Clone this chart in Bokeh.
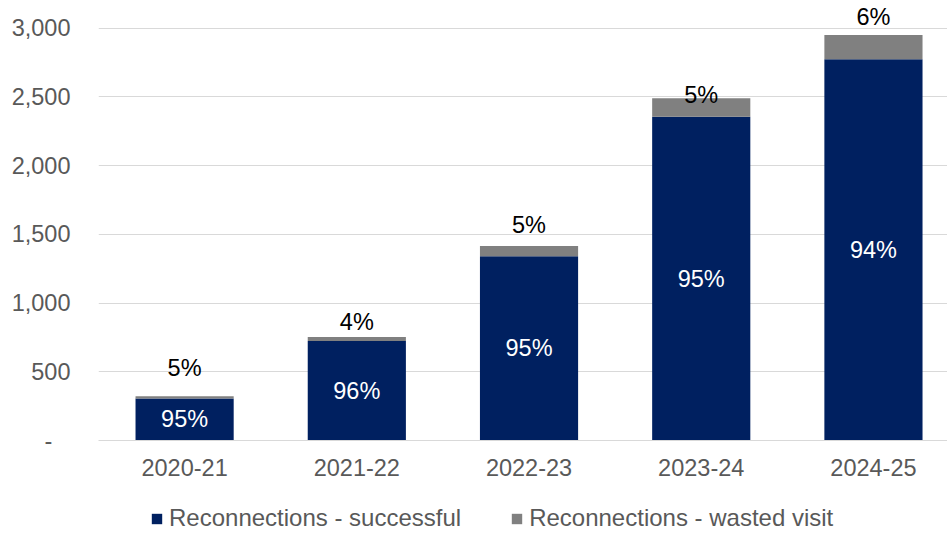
from bokeh.plotting import figure
from bokeh.models import ColumnDataSource, Range1d, FixedTicker, Legend, LegendItem
from bokeh.layouts import column
from bokeh.core.properties import value
from bokeh.embed import file_html
from bokeh.resources import INLINE

years = ["2020-21", "2021-22", "2022-23", "2023-24", "2024-25"]
successful = [306, 723, 1340, 2355, 2773]
wasted = [16, 30, 75, 134, 177]
successful_pct = ["95%", "96%", "95%", "95%", "94%"]
wasted_pct = ["5%", "4%", "5%", "5%", "6%"]
y_ticks = [0, 500, 1000, 1500, 2000, 2500, 3000]
series_names = ["Reconnections - successful", "Reconnections - wasted visit"]

# style: pixel lift of the wasted-visit labels above the bar tops
label_lift = [28, 15, 21, 3, 18]

NAVY = "#002060"
GREY = "#808080"
TXT = "#595959"
FONT = "Liberation Sans"
FS = "23.5px"

idx = list(range(len(years)))
totals = [s + w for s, w in zip(successful, wasted)]
src = ColumnDataSource(dict(
    x=idx, successful=successful, wasted=wasted,
    mid=[s / 2 for s in successful], total=totals,
    spct=successful_pct, wpct=wasted_pct,
    lift=[-l for l in label_lift],
))

p = figure(width=947, height=495, output_backend="svg", toolbar_location=None,
           x_range=Range1d(-0.5, 4.43), y_range=Range1d(0, 3200),
           min_border_left=98, min_border_right=0, min_border_top=0,
           min_border_bottom=55)
p.outline_line_color = None
p.background_fill_color = "white"
p.border_fill_color = "white"

r = p.vbar_stack(["successful", "wasted"], x="x", width=0.57, source=src,
                 color=[NAVY, GREY], line_color=None)

p.text(x="x", y="mid", text="spct", source=src, text_color="white",
       text_font=value(FONT), text_font_size=FS,
       text_align="center", text_baseline="middle")
p.text(x="x", y="total", text="wpct", source=src, text_color="black",
       text_font=value(FONT), text_font_size=FS,
       text_align="center", text_baseline="middle", y_offset="lift")

# axes
p.yaxis.ticker = FixedTicker(ticks=y_ticks)
p.yaxis.major_label_overrides = {0: "-\u2002\u00a0", 500: "500", 1000: "1,000", 1500: "1,500",
                                 2000: "2,000", 2500: "2,500", 3000: "3,000"}
p.yaxis.axis_line_color = None
p.yaxis.major_tick_line_color = None
p.yaxis.minor_tick_line_color = None
p.yaxis.major_label_standoff = 22
p.yaxis.major_label_text_font = FONT
p.yaxis.major_label_text_font_size = FS
p.yaxis.major_label_text_color = TXT

p.xaxis.ticker = FixedTicker(ticks=idx)
p.xaxis.major_label_overrides = {i: y for i, y in enumerate(years)}
p.xaxis.axis_line_color = "#d9d9d9"
p.xaxis.major_tick_line_color = None
p.xaxis.minor_tick_line_color = None
p.xaxis.major_label_standoff = 12
p.xaxis.major_label_text_font = FONT
p.xaxis.major_label_text_font_size = FS
p.xaxis.major_label_text_color = TXT

p.xgrid.grid_line_color = None
p.ygrid.ticker = FixedTicker(ticks=y_ticks)
p.ygrid.grid_line_color = "#d9d9d9"

# legend strip below the chart (zero-height proxy bars only carry the colours)
lg = figure(width=947, height=39, output_backend="svg", toolbar_location=None,
            x_range=Range1d(0, 1), y_range=Range1d(0, 1),
            min_border_left=0, min_border_right=0, min_border_top=0, min_border_bottom=0,
            x_axis_location=None, y_axis_location=None)
lg.outline_line_color = None
lg.xgrid.visible = False
lg.ygrid.visible = False
d1 = lg.vbar(x=[0.5], bottom=[0], top=[0], width=0.1, color=NAVY, line_color=None)
d2 = lg.vbar(x=[0.5], bottom=[0], top=[0], width=0.1, color=GREY, line_color=None)
legend = Legend(items=[LegendItem(label=series_names[0], renderers=[d1]),
                       LegendItem(label=series_names[1], renderers=[d2])],
                orientation="horizontal", location=(52, 2),
                glyph_width=13, glyph_height=13, label_standoff=6, spacing=49,
                padding=0, margin=0, border_line_color=None,
                label_text_font=FONT, label_text_font_size="24px",
                label_text_color=TXT, background_fill_alpha=0)
lg.add_layout(legend, "center")

layout = column(p, lg, spacing=0)
open("out.html", "w").write(file_html(layout, INLINE))
